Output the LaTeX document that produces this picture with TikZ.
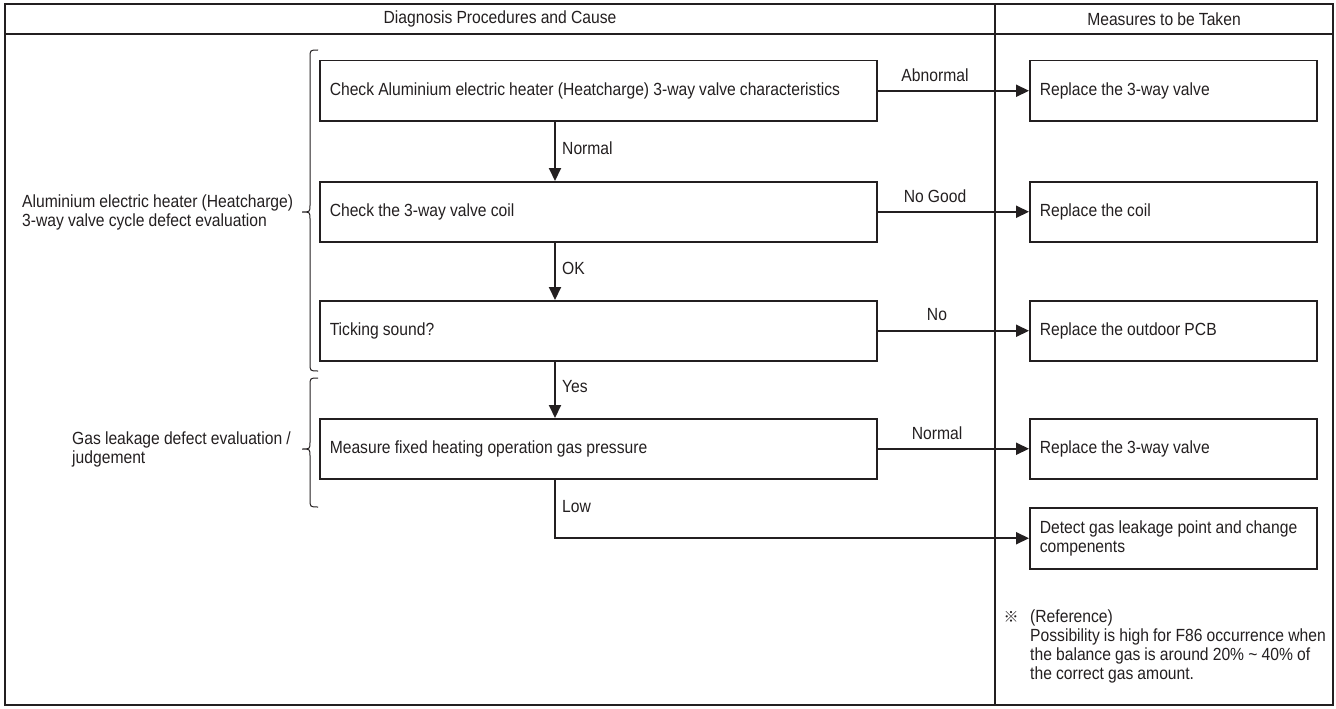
\documentclass[tikz,border=0pt]{standalone}
\usepackage{fontspec}
\setmainfont[FakeStretch=0.89,WordSpace=0.95]{Liberation Sans}
\newfontfamily\cjk{Noto Sans CJK JP}
\usetikzlibrary{arrows.meta}
\definecolor{ink}{HTML}{231F20}
\begin{document}
\begin{tikzpicture}[x=1pt,y=-1pt,
  every node/.style={font=\fontsize{17.6}{19}\selectfont, text=ink},
  frameline/.style={draw=ink, line width=1.4pt},
  boxstyle/.style={draw=ink, line width=1.5pt, anchor=north west, minimum height=60pt, inner xsep=10pt, align=flush left},
  lbox/.style={boxstyle, minimum width=557pt, text width=537pt},
  rbox/.style={boxstyle, minimum width=287pt, text width=267pt},
  arr/.style={draw=ink, line width=2pt, -{Triangle[length=13pt,width=12pt]}},
  lbl/.style={inner sep=0pt},
  bracepath/.style={draw=ink, line width=1pt}]
\useasboundingbox (0,0) rectangle (1336,709);
% frame
\draw[frameline] (5,4) rectangle (1333,705);
\draw[frameline] (5,34) -- (1333,34);
\draw[frameline] (995,4) -- (995,705);
\node (h1) at (500,19) {Diagnosis Procedures and Cause};
\node (h2) at (1164,19) {Measures to be Taken};
% left boxes
\node[lbox] (b1) at (319,60) {Check Aluminium electric heater (Heatcharge) 3-way valve characteristics};
\node[lbox] (b2) at (319,181) {Check the 3-way valve coil};
\node[lbox] (b3) at (319,300) {Ticking sound?};
\node[lbox] (b4) at (319,418) {Measure fixed heating operation gas pressure};
% right boxes
\node[rbox] (r1) at (1029,60) {Replace the 3-way valve};
\node[rbox] (r2) at (1029,181) {Replace the coil};
\node[rbox] (r3) at (1029,300) {Replace the outdoor PCB};
\node[rbox] (r4) at (1029,418) {Replace the 3-way valve};
\node[rbox, minimum height=61pt] (r5) at (1029,507) {Detect gas leakage point and change\\compenents};
% horizontal arrows
\draw[arr] (b1.east) -- (r1.west);
\draw[arr] (b2.east) -- (r2.west);
\draw[arr] (b3.east) -- (r3.west);
\draw[arr] (b4.east) -- (r4.west);
\node[lbl] (t1) at (935,75) {Abnormal};
\node[lbl] (t2) at (935,196) {No Good};
\node[lbl] (t3) at (937,315) {No};
\node[lbl] (t4) at (937,433) {Normal};
% vertical arrows
\coordinate (xa) at (555,0);
\draw[arr] (b1.south -| xa) -- (b2.north -| xa);
\draw[arr] (b2.south -| xa) -- (b3.north -| xa);
\draw[arr] (b3.south -| xa) -- (b4.north -| xa);
\draw[arr] (b4.south -| xa) |- (r5.west);
\node[lbl, anchor=west] (v1) at (562,148) {Normal};
\node[lbl, anchor=west] (v2) at (562,268) {OK};
\node[lbl, anchor=west] (v3) at (562,387) {Yes};
\node[lbl, anchor=west] (v4) at (562,507) {Low};
% braces
\draw[bracepath] (318,50) .. controls (310,50) .. (310,58) -- (310,205)
  .. controls (310,212) .. (302,212) .. controls (310,212) .. (310,219)
  -- (310,363) .. controls (310,371) .. (318,371);
\draw[bracepath] (318,378) .. controls (310,378) .. (310,386) -- (310,442)
  .. controls (310,449) .. (302,449) .. controls (310,449) .. (310,456)
  -- (310,499) .. controls (310,507) .. (318,507);
% group labels
\node[lbl, anchor=west, align=left] (g1) at (22,212.5) {Aluminium electric heater (Heatcharge)\\3-way valve cycle defect evaluation};
\node[lbl, anchor=west, align=left] (g2) at (72,449) {Gas leakage defect evaluation /\\judgement};
% note
\node[lbl, font=\cjk\fontsize{15}{15}\selectfont] (mark) at (1011,617) {※};
\node[lbl, anchor=north west, align=left] (note) at (1030,610) {(Reference)\\Possibility is high for F86 occurrence when\\the balance gas is around 20\% \char`~\ 40\% of\\the correct gas amount.};
\end{tikzpicture}
\end{document}
